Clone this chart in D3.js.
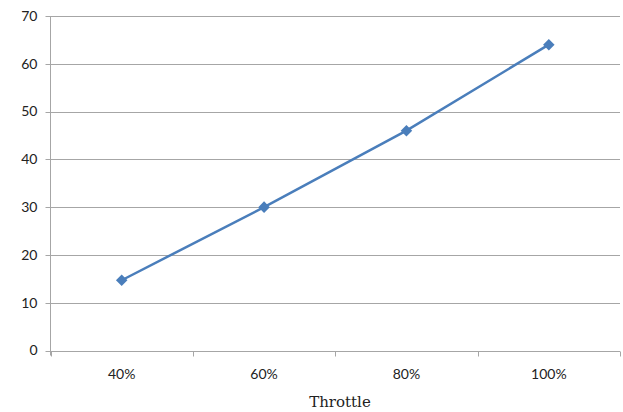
<!DOCTYPE html>
<html><head><meta charset="utf-8">
<script src="https://cdn.jsdelivr.net/npm/d3@7"></script>
<style>body{margin:0;background:#fff}svg{display:block}</style>
</head><body>
<script>
const categories = ["40%", "60%", "80%", "100%"];
const values = [14.7, 30, 46, 64];
const yTicks = [0, 10, 20, 30, 40, 50, 60, 70];
const xTitle = "Throttle";

const W = 623, H = 412;
const m = {left: 50.5, right: 3, top: 16, bottom: 61.5};
const svg = d3.select("body").append("svg").attr("width", W).attr("height", H);
const x = d3.scaleBand().domain(categories).range([m.left, W - m.right]);
const y = d3.scaleLinear().domain([0, 70]).range([H - m.bottom, m.top]);
const grid = "#a6a6a6";

svg.append("g").selectAll("line").data(yTicks).join("line")
  .attr("x1", m.left - 5).attr("x2", W - m.right)
  .attr("y1", d => Math.round(y(d)) + 0.5).attr("y2", d => Math.round(y(d)) + 0.5)
  .attr("stroke", grid).attr("stroke-width", 1);

svg.append("line").attr("x1", m.left).attr("x2", m.left)
  .attr("y1", y(70)).attr("y2", y(0) + 5).attr("stroke", grid);

const bounds = categories.map(c => x(c)).concat([x(categories[categories.length-1]) + x.bandwidth()]);
svg.append("g").selectAll("line").data(bounds).join("line")
  .attr("x1", d => Math.round(d) + 0.5).attr("x2", d => Math.round(d) + 0.5)
  .attr("y1", Math.round(y(0)) + 0.5).attr("y2", Math.round(y(0)) + 5.5)
  .attr("stroke", grid);

svg.append("g").selectAll("text").data(yTicks).join("text")
  .attr("x", m.left - 13).attr("y", d => y(d)).attr("dy", "0.35em")
  .attr("text-anchor", "end").attr("font-family", "Lato, 'Liberation Sans', sans-serif")
  .attr("font-size", 14).attr("fill", "#222").text(d => d);

svg.append("g").selectAll("text").data(categories).join("text")
  .attr("x", d => x(d) + x.bandwidth() / 2).attr("y", y(0) + 28)
  .attr("text-anchor", "middle").attr("font-family", "Lato, 'Liberation Sans', sans-serif")
  .attr("font-size", 14).attr("fill", "#222").text(d => d);

svg.append("text").attr("x", 340).attr("y", 407)
  .attr("text-anchor", "middle").attr("font-family", "'DejaVu Serif', 'Liberation Serif', serif")
  .attr("font-size", 15).attr("fill", "#222").text(xTitle);

const pts = categories.map((c, i) => [x(c) + x.bandwidth() / 2, y(values[i])]);
svg.append("path").attr("d", d3.line()(pts)).attr("fill", "none")
  .attr("stroke", "#4a7ebb").attr("stroke-width", 2.5);

svg.append("g").selectAll("path").data(pts).join("path")
  .attr("transform", d => `translate(${d[0]},${d[1]})`)
  .attr("d", d3.symbol(d3.symbolDiamond2, 85)())
  .attr("fill", "#4a7ebb");
</script>
</body></html>
